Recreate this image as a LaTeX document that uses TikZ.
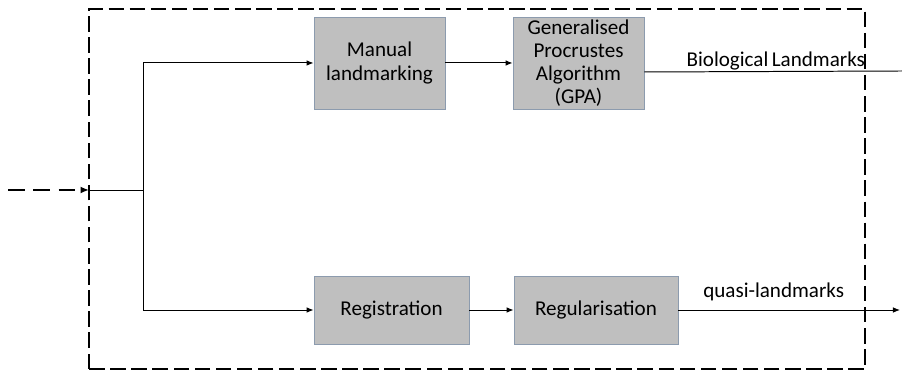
\documentclass[tikz,border=0pt]{standalone}
\usepackage{fontspec}
\setmainfont{Carlito}
\usepackage{xcolor}
\usetikzlibrary{arrows.meta}

\definecolor{boxgray}{RGB}{191,191,191}
\definecolor{boxline}{RGB}{140,155,174}

\tikzset{
    procbox/.style={draw=boxline, fill=boxgray, line width=0.6pt, align=center,
        font=\fontsize{15}{16.5}\selectfont, inner sep=0pt},
    flow/.style={line width=0.7pt, -{Latex[length=5pt,width=4pt]}},
    framedash/.style={line width=1.5pt, dash pattern=on 11pt off 4pt},
    inputdash/.style={line width=1.5pt, dash pattern=on 12pt off 6pt},
    lbl/.style={font=\fontsize{15}{16}\selectfont}
}

\begin{document}
\begin{tikzpicture}

    \useasboundingbox (0, 0) rectangle (22.55, 9.275);

    % Dashed frame round the process
    \draw[framedash] (2.225, 0.05) rectangle (21.625, 9.05);

    % Boxes
    \node[procbox, minimum width=3.275cm, minimum height=2.3cm] (manual) at (9.4875, 7.7) {Manual\\landmarking};
    \node[procbox, minimum width=3.275cm, minimum height=2.3cm] (gpa) at (14.4625, 7.7) {Generalised\\Procrustes\\Algorithm\\(GPA)};
    \node[procbox, minimum width=3.875cm, minimum height=1.7cm] (registration) at (9.7875, 1.525) {Registration};
    \node[procbox, minimum width=4.1cm, minimum height=1.7cm] (regularisation) at (14.9, 1.525) {Regularisation};

    \coordinate (input) at (0.2, 4.525);
    \coordinate (entry) at (2.225, 4.525);
    \coordinate (split) at (3.575, 4.525);
    \coordinate (bioend) at (22.55, 7.5);
    \coordinate (quasiend) at (22.5, 1.525);

    % Input and split
    \draw[inputdash, -{Latex[length=6pt,width=5pt]}] (input) -- (entry);
    \draw[line width=0.7pt] (entry) -- (split);
    \draw[flow] (split) |- (manual.west);
    \draw[flow] (split) |- (registration.west);

    \draw[flow] (manual) -- (gpa);
    \draw[flow] (registration) -- (regularisation);

    % Outputs
    \draw[line width=0.7pt] ([yshift=-0.225cm]gpa.east) -- (bioend)
        node[lbl, pos=0.51, above=-3pt] (biolabel) {Biological\,Landmarks};
    \draw[flow] (regularisation) -- (quasiend)
        node[lbl, pos=0.43, above=3pt] (quasilabel) {quasi-landmarks};

\end{tikzpicture}
\end{document}
